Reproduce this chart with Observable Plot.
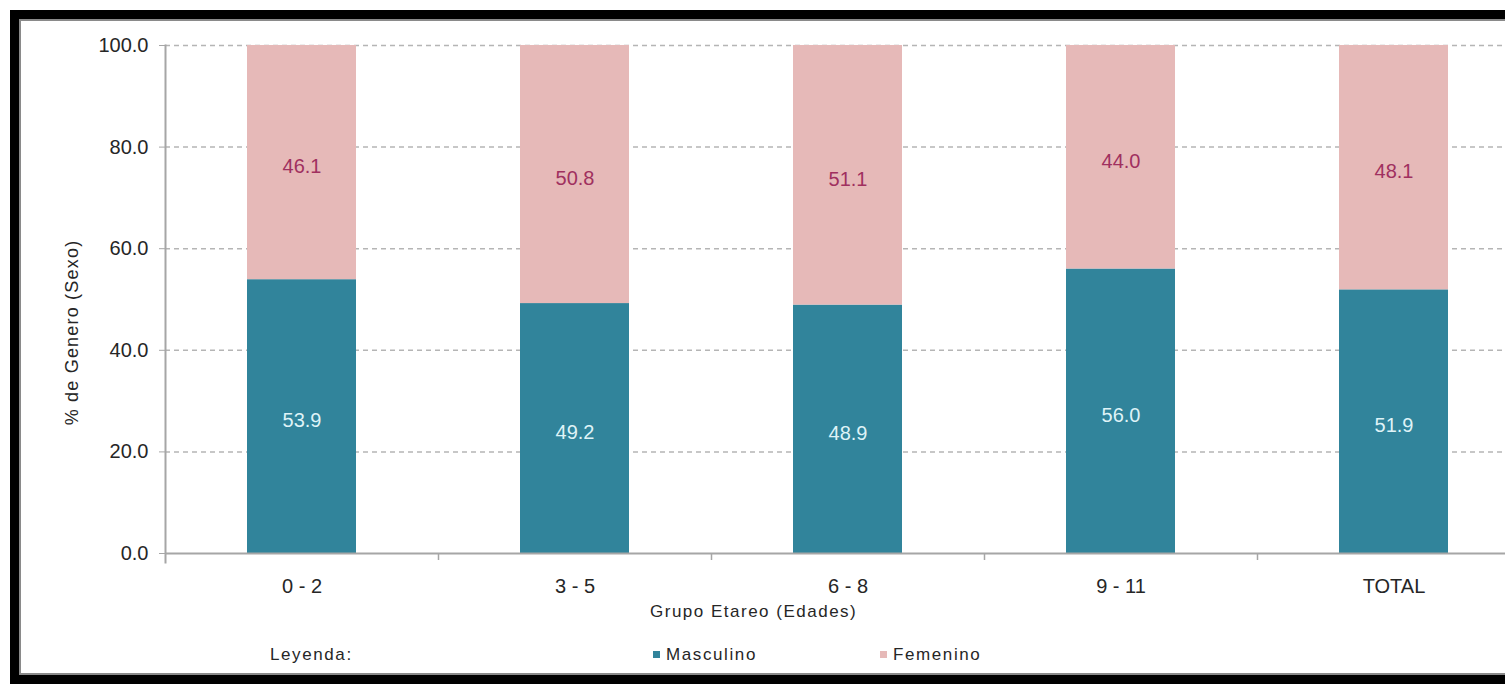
<!DOCTYPE html>
<html>
<head>
<meta charset="utf-8">
<script src="https://cdn.jsdelivr.net/npm/d3@7"></script>
<script src="https://cdn.jsdelivr.net/npm/@observablehq/plot@0.6"></script>
<style>
  html, body { margin: 0; padding: 0; background: #fff; overflow: hidden; }
  #page { position: relative; width: 1505px; height: 684px; overflow: hidden; font-family: "Liberation Sans", Arial, sans-serif; color: #262626; }
  #chart { position: absolute; left: 0; top: 0; width: 1540px; }
  #chart svg { max-width: none !important; }
  #frame { position: absolute; left: 10px; top: 10px; width: 1600px; height: 656px; border: 9px solid #000; border-right: none; box-shadow: inset 2px 2px 0 0 #8a8a8a, inset 0 -2px 0 0 #8a8a8a; pointer-events: none; }
  .cap { position: absolute; white-space: nowrap; font-size: 17px; color: #262626; }
  .sw { display: inline-block; width: 7px; height: 7px; margin-right: 6px; vertical-align: 2px; }
</style>
</head>
<body>
<div id="page">
  <div id="chart"></div>
  <div class="cap" id="xlabel" style="left:650px; top:602px; letter-spacing:1.5px;">Grupo Etareo (Edades)</div>
  <div class="cap" id="legend-title" style="left:270px; top:645px; letter-spacing:1.6px;">Leyenda:</div>
  <div class="cap" id="legend-items" style="left:653px; top:645px;"></div>
  <div id="frame"></div>
</div>
<script>
const categories = ["0 - 2", "3 - 5", "6 - 8", "9 - 11", "TOTAL"];
const series = ["Masculino", "Femenino"];
const masculino = [53.9, 49.2, 48.9, 56.0, 51.9];
const femenino = [46.1, 50.8, 51.1, 44.0, 48.1];
const yTicks = [0, 20, 40, 60, 80, 100];
const colors = ["#31849b", "#e6b9b8"];
const labelColors = ["#dff3f7", "#a0305f"];
const yTitle = "% de Genero (Sexo)";

const rows = [];
categories.forEach((c, i) => {
  rows.push({grupo: c, sexo: series[0], valor: masculino[i]});
  rows.push({grupo: c, sexo: series[1], valor: femenino[i]});
});

const W = 1540, H = 600, ML = 165, MR = 10, MT = 45, MB = 47;
const step = (W - ML - MR) / categories.length;

const chart = Plot.plot({
  width: W,
  height: H,
  marginLeft: ML,
  marginRight: MR,
  marginTop: MT,
  marginBottom: MB,
  style: {fontFamily: "'Liberation Sans', Arial, sans-serif", color: "#262626", background: "transparent", maxWidth: "none"},
  x: {domain: categories, paddingInner: 0.6, paddingOuter: 0.3, label: null},
  y: {domain: [0, 100], label: null},
  color: {domain: series, range: colors},
  marks: [
    Plot.gridY(yTicks.filter(d => d > 0), {stroke: "#b5b5b5", strokeOpacity: 1, strokeWidth: 1.5, strokeDasharray: "5,4"}),
    Plot.barY(rows, {x: "grupo", y: "valor", fill: "sexo", order: series}),
    Plot.text(rows, Plot.stackY({
      x: "grupo", y: "valor", z: "sexo", order: series,
      text: d => d.valor.toFixed(1),
      fill: d => labelColors[series.indexOf(d.sexo)],
      fontSize: 20, dy: 4
    })),
    Plot.ruleY([0], {stroke: "#a6a6a6", strokeWidth: 2}),
    Plot.ruleX(categories.slice(0, -1), {x: d => d, y1: 0, y2: 0, dx: step / 2, insetBottom: -7, stroke: "#a6a6a6", strokeWidth: 1.5}),
    Plot.frame({anchor: "left", stroke: "#a6a6a6", strokeWidth: 2, insetBottom: -9}),
    Plot.axisY(yTicks, {tickFormat: d => d.toFixed(1), tickSize: 6, tickPadding: 11, fontSize: 20, stroke: "#a6a6a6", label: null}),
    Plot.axisX({tickSize: 0, tickPadding: 25, fontSize: 20, label: null}),
    Plot.text([yTitle], {frameAnchor: "left", textAnchor: "middle", rotate: -90, dx: -93, dy: 33, fontSize: 18, fill: "#262626", text: d => d, style: "letter-spacing:1.2px"})
  ]
});
chart.style.maxWidth = "none";
chart.querySelectorAll("text").forEach(t => {
  if (t.textContent === yTitle) t.style.letterSpacing = "1.2px";
});
document.getElementById("chart").appendChild(chart);

const legend = document.getElementById("legend-items");
series.forEach((s, i) => {
  const span = document.createElement("span");
  span.style.position = "absolute";
  span.style.left = (i === 0 ? 0 : 227) + "px";
  span.style.letterSpacing = "1.6px";
  span.innerHTML = `<span class="sw" style="background:${colors[i]}"></span>${s}`;
  legend.appendChild(span);
});
</script>
</body>
</html>
